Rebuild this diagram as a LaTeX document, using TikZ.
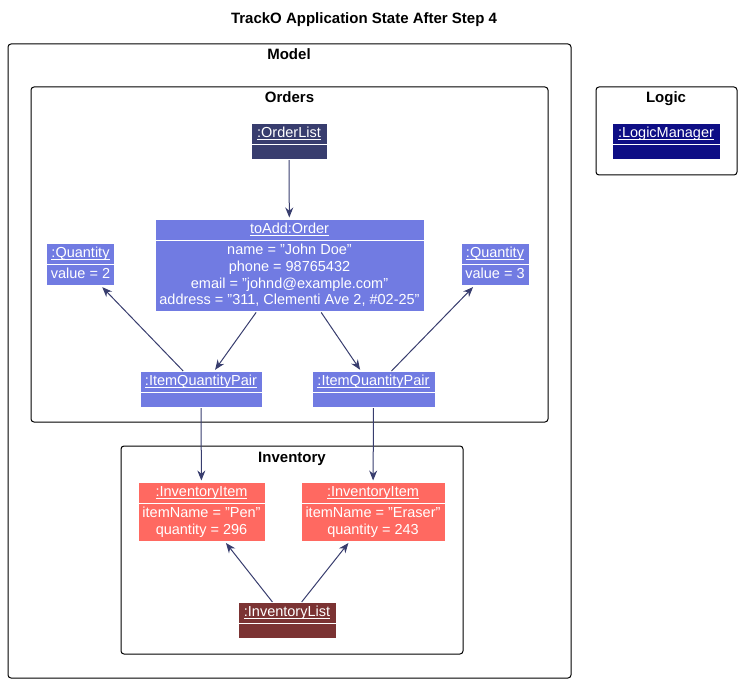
\documentclass[tikz,border=0pt]{standalone}
\usepackage{fontspec}
\setmainfont{Liberation Sans}
\usetikzlibrary{shapes.multipart,arrows.meta,positioning}
\definecolor{orderlistcol}{HTML}{383D6E}
\definecolor{objcol}{HTML}{717BE2}
\definecolor{itemcol}{HTML}{FF6961}
\definecolor{invlistcol}{HTML}{7B3333}
\definecolor{logiccol}{HTML}{0E0E85}
\definecolor{linkcol}{HTML}{383D6E}
\newcommand\ostrut{\rule[-3.5pt]{0pt}{14pt}}
\newcommand\objname[1]{\setbox0\hbox{#1}\rlap{\rule[-2.5pt]{\wd0}{0.8pt}}\box0\ostrut}
\tikzset{
  obj/.style={rectangle split, rectangle split parts=2, draw=white, line width=1pt,
    fill=#1, text=white, font=\fontsize{14.5}{16.8}\selectfont, align=center,
    inner xsep=4pt, inner ysep=3pt, rectangle split empty part height=8pt, anchor=north},
  link/.style={draw=linkcol, line width=1pt, -{Stealth[length=10pt,width=8pt]}, shorten >=1.5pt},
  pkg/.style={draw=black, line width=1pt, rounded corners=3pt},
  pkglabel/.style={font=\bfseries\fontsize{15}{17}\selectfont, inner sep=0pt, anchor=base},
}

\begin{document}
\begin{tikzpicture}[x=1pt,y=-1pt]
  \useasboundingbox (0,0) rectangle (742,682);
  \node[pkglabel] (title) at (364,24) {TrackO Application State After Step 4};

  \draw[pkg] (8,44) rectangle (571,678);
  \node[pkglabel] (modellbl) at (289,60) {Model};
  \draw[pkg] (31,87) rectangle (548,422);
  \node[pkglabel] (orderslbl) at (289.5,103) {Orders};
  \draw[pkg] (121,446) rectangle (463,654);
  \node[pkglabel] (invlbl) at (292,462) {Inventory};
  \draw[pkg] (596,87) rectangle (737,175);
  \node[pkglabel] (logiclbl) at (666,103) {Logic};

  \node[obj=orderlistcol, minimum width=76pt] (orderlist) at (289,123) {\objname{:OrderList}\nodepart{two}};
  \node[obj=objcol, minimum width=269pt] (order) at (289.5,219) {\objname{toAdd:Order}
    \nodepart{two}\ostrut name = "John Doe"\\\ostrut phone = 98765432\\\ostrut email = "johnd@example.com"\\\ostrut address = "311, Clementi Ave 2, \#02-25"};
  \node[obj=objcol, minimum width=65pt] (qtyleft) at (80.5,243) {\objname{:Quantity}\nodepart{two}\ostrut value = 2};
  \node[obj=objcol, minimum width=68pt] (qtyright) at (495,243) {\objname{:Quantity}\nodepart{two}\ostrut value = 3};
  \node[obj=objcol, minimum width=122pt] (pairleft) at (201,371) {\objname{:ItemQuantityPair}\nodepart{two}};
  \node[obj=objcol, minimum width=123pt] (pairright) at (373.5,371) {\objname{:ItemQuantityPair}\nodepart{two}};
  \node[obj=itemcol, minimum width=127pt] (itemleft) at (201.5,482) {\objname{:InventoryItem}
    \nodepart{two}\ostrut itemName = "Pen"\\\ostrut quantity = 296};
  \node[obj=itemcol, minimum width=144pt] (itemright) at (373,482) {\objname{:InventoryItem}
    \nodepart{two}\ostrut itemName = "Eraser"\\\ostrut quantity = 243};
  \node[obj=invlistcol, minimum width=98pt] (invlist) at (287,602) {\objname{:InventoryList}\nodepart{two}};
  \node[obj=logiccol, minimum width=108pt] (logicmgr) at (666,123) {\objname{:LogicManager}\nodepart{two}};

  \draw[link] (orderlist) -- (order);
  \draw[link] (order) -- (pairleft);
  \draw[link] (order) -- (pairright);
  \draw[link] (pairleft) -- (qtyleft);
  \draw[link] (pairright) -- (qtyright);
  \draw[link] (pairleft) -- (itemleft);
  \draw[link] (pairright) -- (itemright);
  \draw[link] (invlist) -- (itemleft);
  \draw[link] (invlist) -- (itemright);
\end{tikzpicture}
\end{document}
